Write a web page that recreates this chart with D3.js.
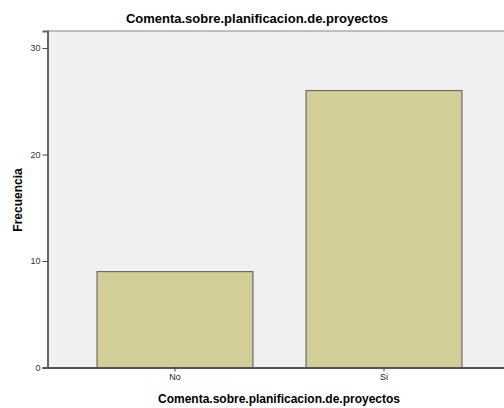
<!DOCTYPE html>
<html><head><meta charset="utf-8">
<script src="https://cdn.jsdelivr.net/npm/d3@7"></script>
<style>body{margin:0;background:#fff;} svg{display:block;font-family:"Liberation Sans",Arial,sans-serif;}</style>
</head><body>
<script>
const categories = ["No", "Si"];
const values = [9, 26];
const yTicks = [0, 10, 20, 30];
const title = "Comenta.sobre.planificacion.de.proyectos";
const xTitle = "Comenta.sobre.planificacion.de.proyectos";
const yTitle = "Frecuencia";

const W = 504, H = 408;
const plot = {left: 47.5, right: 511.5, top: 31, bottom: 367.5};
const svg = d3.select("body").append("svg").attr("width", W).attr("height", H);

const x = d3.scaleBand().domain(categories).range([plot.left, plot.right])
  .paddingInner(0.254).paddingOuter(0.237);
const y = d3.scaleLinear().domain([0, 31.6]).range([plot.bottom, plot.top]);

svg.append("rect").attr("x", plot.left).attr("y", plot.top)
  .attr("width", plot.right - plot.left).attr("height", plot.bottom - plot.top)
  .attr("fill", "#f0f0f0").attr("stroke", "#888").attr("stroke-width", 1);

svg.selectAll("rect.bar").data(values).enter().append("rect").attr("class", "bar")
  .attr("x", (d, i) => x(categories[i]))
  .attr("y", d => y(d))
  .attr("width", x.bandwidth())
  .attr("height", d => y(0) - y(d))
  .attr("fill", "#d3ce97").attr("stroke", "#555").attr("stroke-width", 1);

const yAxis = d3.axisLeft(y).tickValues(yTicks).tickSize(5).tickPadding(2).tickFormat(d3.format("d"));
const gy = svg.append("g").attr("transform", `translate(${plot.left},0)`).call(yAxis);
gy.select(".domain").attr("stroke", "#666").attr("stroke-width", 2);
gy.selectAll(".tick line").attr("stroke", "#444");
gy.selectAll(".tick text").attr("font-size", 9).attr("fill", "#333").attr("font-family", "Liberation Sans, Arial, sans-serif");

const xAxis = d3.axisBottom(x).tickSize(4).tickPadding(2).tickSizeOuter(0);
const gx = svg.append("g").attr("transform", `translate(0,${plot.bottom})`).call(xAxis);
gx.select(".domain").attr("stroke", "#555").attr("stroke-width", 2);
gx.selectAll(".tick line").attr("stroke", "#444");
gx.selectAll(".tick text").attr("font-size", 9).attr("fill", "#222").attr("font-family", "Liberation Sans, Arial, sans-serif");

svg.append("text").attr("x", 257).attr("y", 23).attr("text-anchor", "middle")
  .attr("font-size", 13).attr("font-weight", "bold").attr("fill", "#000").text(title);
svg.append("text").attr("x", 279).attr("y", 403).attr("text-anchor", "middle")
  .attr("font-size", 12).attr("font-weight", "bold").attr("fill", "#000").text(xTitle);
svg.append("text").attr("transform", "translate(22,200) rotate(-90)").attr("text-anchor", "middle")
  .attr("font-size", 12).attr("font-weight", "bold").attr("fill", "#000").text(yTitle);
</script>
</body></html>
